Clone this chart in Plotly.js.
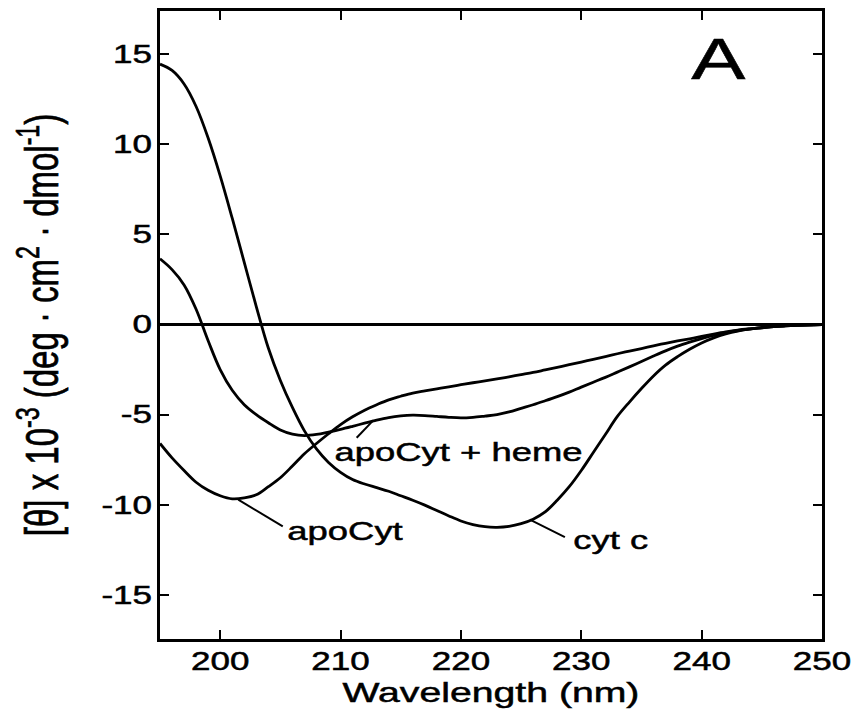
<!DOCTYPE html>
<html>
<head>
<meta charset="utf-8">
<script src="https://cdn.plot.ly/plotly-3.0.1.min.js"></script>
<style>html,body{margin:0;padding:0;background:#fff;}</style>
</head>
<body>
<div id="chart" style="width:852px;height:720px;"></div>
<script>
// Wavelength grid (nm)
const wavelength = [195,196,197,198,199,200,201,202,203,204,205,206,207,208,209,210,211,212,213,214,215,216,217,218,219,220,221,222,223,224,225,226,227,228,229,230,231,232,233,234,235,236,237,238,239,240,241,242,243,244,245,246,247,248,250];

// [θ] x 10^-3 values
const cytC = [14.45,14.1,13.35,12.1,10.35,8.25,5.9,3.45,1.0,-1.3,-3.1,-4.6,-5.9,-6.9,-7.65,-8.2,-8.6,-8.85,-9.05,-9.25,-9.5,-9.75,-10.02,-10.32,-10.62,-10.9,-11.1,-11.22,-11.25,-11.2,-11.05,-10.8,-10.4,-9.75,-9.0,-8.1,-7.1,-6.1,-5.1,-4.3,-3.55,-2.85,-2.25,-1.78,-1.37,-1.02,-0.74,-0.52,-0.36,-0.25,-0.16,-0.1,-0.06,-0.03,0];
const apoCytHeme = [3.65,3.05,2.2,0.85,-0.9,-2.5,-3.65,-4.45,-5.0,-5.45,-5.85,-6.08,-6.16,-6.1,-5.97,-5.82,-5.65,-5.47,-5.3,-5.16,-5.07,-5.03,-5.05,-5.1,-5.15,-5.18,-5.15,-5.08,-5.0,-4.85,-4.65,-4.45,-4.23,-4.0,-3.75,-3.47,-3.2,-2.93,-2.64,-2.35,-2.05,-1.75,-1.46,-1.2,-0.98,-0.78,-0.6,-0.45,-0.33,-0.24,-0.18,-0.12,-0.07,-0.04,0];
const apoCyt = [-6.6,-7.4,-8.1,-8.75,-9.2,-9.5,-9.67,-9.62,-9.45,-9.0,-8.5,-7.85,-7.17,-6.6,-6.06,-5.55,-5.12,-4.75,-4.45,-4.18,-3.98,-3.8,-3.68,-3.57,-3.46,-3.34,-3.23,-3.13,-3.02,-2.9,-2.78,-2.66,-2.52,-2.38,-2.23,-2.08,-1.93,-1.78,-1.62,-1.47,-1.33,-1.18,-1.04,-0.91,-0.79,-0.66,-0.53,-0.41,-0.31,-0.24,-0.18,-0.12,-0.07,-0.04,0];

// Curve labels and their leader lines (data coordinates)
const labelText = ["apoCyt + heme", "apoCyt", "cyt c"];
const labelX = [219.8, 210.4, 232.4];
const labelY = [-7.1, -11.45, -11.95];
const leaderX = [[211.34, 212.72], [201.5, 205.2], [225.73, 228.64]];
const leaderY = [[-6.28, -5.32], [-9.72, -11.2], [-10.83, -11.8]];

const xTicks = [200,210,220,230,240,250];
const yTicks = [-15,-10,-5,0,5,10,15];

const FONT = "Liberation Sans, Arial, Helvetica, sans-serif";
const lineStyle = {color: "#000", width: 2.8, shape: "spline", smoothing: 1};

const traces = [
  {x: wavelength, y: cytC, name: "cyt c", mode: "lines", line: lineStyle},
  {x: wavelength, y: apoCytHeme, name: "apoCyt + heme", mode: "lines", line: lineStyle},
  {x: wavelength, y: apoCyt, name: "apoCyt", mode: "lines", line: lineStyle}
];
leaderX.forEach((lx, i) => {
  traces.push({x: lx, y: leaderY[i], mode: "lines", line: {color: "#000", width: 2}, hoverinfo: "skip"});
});

const annotations = labelText.map((t, i) => ({
  x: labelX[i], y: labelY[i], xref: "x", yref: "y", text: t, showarrow: false,
  xanchor: "center", yanchor: "middle", font: {family: FONT, size: 26, color: "#000"}
}));
annotations.push({
  x: 241.4, y: 14.75, xref: "x", yref: "y", text: "A", showarrow: false,
  xanchor: "center", yanchor: "middle", font: {family: FONT, size: 58, color: "#000"}
});

const layout = {
  width: 852, height: 720,
  margin: {l: 160, r: 30, t: 11, b: 81, pad: 0},
  paper_bgcolor: "#fff", plot_bgcolor: "#fff",
  showlegend: false,
  font: {family: FONT, color: "#000"},
  xaxis: {
    range: [195, 250], tickvals: xTicks, ticktext: xTicks.map(String),
    ticks: "inside", ticklen: 9, tickwidth: 2, tickcolor: "#000",
    showline: true, linewidth: 3, linecolor: "#000", mirror: "ticks",
    showgrid: false, zeroline: false,
    tickfont: {family: FONT, size: 25, color: "#000"},
    ticklabelstandoff: -2,
    title: {text: "Wavelength (nm)", font: {family: FONT, size: 28, color: "#000"}, standoff: 9}
  },
  yaxis: {
    range: [-17.45, 17.4], tickvals: yTicks, ticktext: yTicks.map(String),
    ticks: "inside", ticklen: 9, tickwidth: 2, tickcolor: "#000",
    showline: true, linewidth: 3, linecolor: "#000", mirror: "ticks",
    showgrid: false, zeroline: true, zerolinecolor: "#000", zerolinewidth: 2.5,
    tickfont: {family: FONT, size: 25, color: "#000"},
    ticklabelstandoff: 0,
    title: {text: "[θ] x 10<sup>-3</sup> (deg · cm<sup>2</sup> · dmol<sup>-1</sup>)", font: {family: FONT, size: 33, color: "#000"}, standoff: 53}
  },
  annotations: annotations
};

// The original figure is horizontally stretched; widen glyphs around their anchor.
function stretchText(gd) {
  const s = 1.4;
  gd.querySelectorAll("svg text").forEach(el => {
    const r = el.getBoundingClientRect();
    if (!r.width) return;
    const prev = el.getAttribute("transform") || "";
    const anchor = el.getAttribute("text-anchor") || "start";
    let sx = anchor === "end" ? r.right : (anchor === "middle" ? (r.left + r.right) / 2 : r.left);
    if (prev.indexOf("rotate") >= 0) sx = (r.left + r.right) / 2;
    const sy = (r.top + r.bottom) / 2;
    const M = el.parentNode.getScreenCTM();
    const p = new DOMPoint(sx, sy).matrixTransform(M.inverse());
    el.setAttribute("transform", "translate(" + p.x + " " + p.y + ") scale(" + s + " 1) translate(" + (-p.x) + " " + (-p.y) + ") " + prev);
    el.style.stroke = "#000";
    el.style.strokeWidth = "0.5px";
  });
}

Plotly.newPlot("chart", traces, layout, {displayModeBar: false, staticPlot: true}).then(stretchText);
</script>
</body>
</html>
